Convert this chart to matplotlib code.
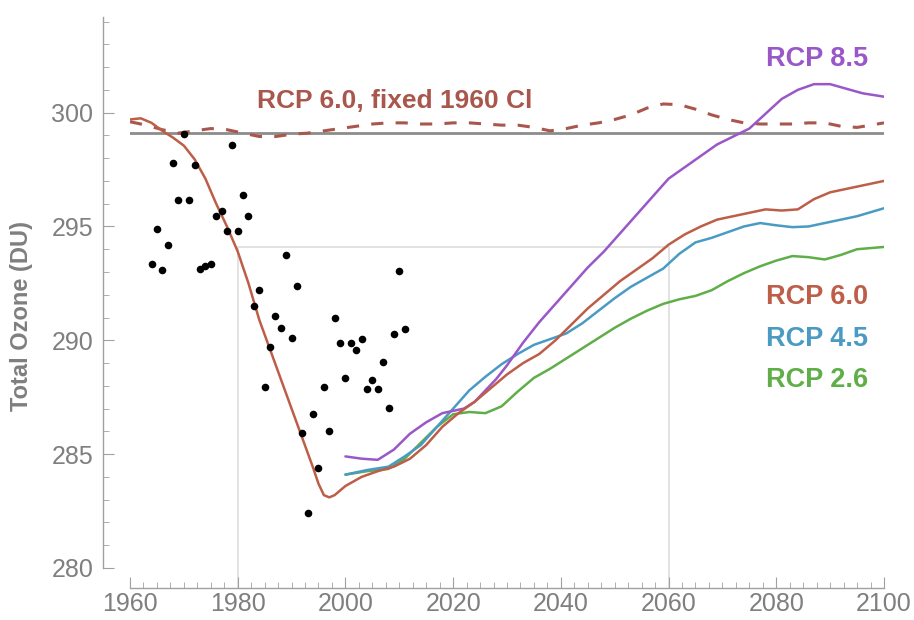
import matplotlib.pyplot as plt
from matplotlib.ticker import MultipleLocator

plt.rcParams.update({"font.family": ["Liberation Sans", "DejaVu Sans"]})

# observed total ozone (dots)
obs_years = list(range(1964, 2012))
obs_vals = [293.36, 294.9, 293.07, 294.2, 297.8, 296.17, 299.06, 296.17, 297.7, 293.11,
            293.27, 293.36, 295.45, 295.7, 294.82, 298.58, 294.82, 296.36, 295.48, 291.5,
            292.2, 287.95, 289.7, 291.05, 290.54, 293.76, 290.1, 292.38, 285.94, 282.4,
            286.78, 284.37, 287.95, 286.02, 290.99, 289.86, 288.36, 289.86, 289.56, 290.07,
            287.88, 288.25, 287.84, 289.04, 287.03, 290.29, 293.04, 290.5]

# RCP 6.0 incl. historical part
rcp60_years = [1960, 1962, 1964, 1966, 1968, 1970, 1972, 1974, 1976, 1978, 1980, 1982, 1984,
               1986, 1988, 1990, 1992, 1994, 1995, 1996, 1997, 1998, 2000, 2003, 2006, 2009,
               2012, 2015, 2018, 2021, 2024, 2027, 2030, 2033, 2036, 2039, 2042, 2045, 2048,
               2051, 2054, 2057, 2060, 2063, 2066, 2069, 2072, 2075, 2078, 2081, 2084, 2087,
               2090, 2093, 2096, 2100]
rcp60_vals = [299.7, 299.75, 299.55, 299.2, 298.9, 298.55, 297.95, 297.1, 296.0, 295.0, 293.9,
              292.5, 290.9, 289.6, 288.3, 287.0, 285.7, 284.4, 283.7, 283.2, 283.1, 283.2,
              283.6, 284.0, 284.25, 284.45, 284.8, 285.4, 286.2, 286.8, 287.3, 287.9, 288.5,
              289.0, 289.4, 290.0, 290.7, 291.4, 292.0, 292.6, 293.1, 293.6, 294.2, 294.65,
              295.0, 295.3, 295.45, 295.6, 295.75, 295.7, 295.75, 296.2, 296.5, 296.65,
              296.8, 297.0]

rcp85_years = [2000, 2003, 2006, 2009, 2012, 2015, 2018, 2020, 2022, 2024, 2026, 2028, 2030,
               2033, 2036, 2039, 2042, 2045, 2048, 2051, 2054, 2057, 2060, 2063, 2066, 2069,
               2072, 2075, 2078, 2081, 2084, 2087, 2090, 2093, 2096, 2100]
rcp85_vals = [284.9, 284.8, 284.75, 285.2, 285.9, 286.4, 286.8, 286.9, 287.0, 287.3, 287.8,
              288.3, 288.9, 289.9, 290.8, 291.6, 292.4, 293.2, 293.9, 294.7, 295.5, 296.3,
              297.1, 297.6, 298.1, 298.6, 298.95, 299.3, 299.95, 300.6, 301.0, 301.25,
              301.25, 301.05, 300.85, 300.7]

rcp45_years = [2000, 2004, 2008, 2011, 2014, 2017, 2020, 2023, 2026, 2029, 2032, 2035, 2038,
               2041, 2044, 2047, 2050, 2053, 2056, 2059, 2062, 2065, 2068, 2071, 2074, 2077,
               2080, 2083, 2086, 2089, 2092, 2095, 2100]
rcp45_vals = [284.1, 284.3, 284.45, 284.9, 285.4, 286.2, 287.0, 287.8, 288.4, 288.95, 289.4,
              289.8, 290.05, 290.3, 290.75, 291.3, 291.85, 292.35, 292.75, 293.15, 293.8,
              294.3, 294.5, 294.75, 295.0, 295.15, 295.05, 294.97, 295.0, 295.15, 295.3,
              295.45, 295.8]

rcp26_years = [2000, 2004, 2008, 2011, 2014, 2017, 2020, 2023, 2026, 2029, 2032, 2035, 2038,
               2041, 2044, 2047, 2050, 2053, 2056, 2059, 2062, 2065, 2068, 2071, 2074, 2077,
               2080, 2083, 2086, 2089, 2092, 2095, 2100]
rcp26_vals = [284.1, 284.25, 284.35, 284.8, 285.5, 286.2, 286.75, 286.85, 286.8, 287.1,
              287.75, 288.35, 288.75, 289.2, 289.65, 290.1, 290.55, 290.95, 291.3, 291.6,
              291.8, 291.95, 292.2, 292.6, 292.95, 293.25, 293.5, 293.7, 293.65, 293.55,
              293.75, 294.0, 294.1]

# RCP 6.0 with chlorine fixed at 1960 level
fixed_years = [1960, 1963, 1966, 1969, 1972, 1975, 1978, 1981, 1984, 1987, 1990, 1993, 1996,
               1999, 2002, 2005, 2008, 2011, 2014, 2017, 2020, 2023, 2026, 2029, 2032, 2035,
               2038, 2041, 2044, 2047, 2050, 2053, 2056, 2059, 2062, 2065, 2068, 2071, 2074,
               2077, 2080, 2083, 2086, 2089, 2092, 2095, 2100]
fixed_vals = [299.6, 299.45, 299.25, 299.1, 299.2, 299.3, 299.25, 299.1, 298.95, 298.95,
              299.05, 299.1, 299.2, 299.3, 299.4, 299.5, 299.55, 299.55, 299.5, 299.5, 299.55,
              299.55, 299.5, 299.45, 299.45, 299.35, 299.2, 299.3, 299.45, 299.55, 299.7,
              299.9, 300.2, 300.38, 300.35, 300.15, 299.9, 299.7, 299.55, 299.5, 299.5, 299.5,
              299.55, 299.55, 299.4, 299.35, 299.55]

ref_1960 = 299.1      # gray horizontal reference
recover_level = 294.1  # 1980 level, reached again in 2060
recover_years = [1980, 2060]

C_RED = "#bd5e48"
C_DASH = "#a9574c"
C_PURPLE = "#9a57c8"
C_BLUE = "#4a9bc3"
C_GREEN = "#5fae48"
C_GRAY = "#7f7f7f"

fig = plt.figure(figsize=(9.14, 6.2), dpi=100)
ax = fig.add_axes([130 / 914, 1 - 588 / 620, 754 / 914, 571 / 620])
ax.set_xlim(1960, 2100)
ax.set_ylim(279.12, 304.2)

# 1980 / 2060 guide lines
y0 = ax.get_ylim()[0]
ax.plot([recover_years[0], recover_years[0], recover_years[1], recover_years[1]],
        [y0, recover_level, recover_level, y0], color="#dddddd", lw=1.2, zorder=1)

ax.axhline(ref_1960, color="#8c8c8c", lw=2.0, zorder=2)
ax.plot(fixed_years, fixed_vals, color=C_DASH, lw=2.2, dashes=(4, 4), zorder=3)

line_kw = dict(lw=1.8, solid_joinstyle="round", solid_capstyle="round")
ax.plot(rcp26_years, rcp26_vals, color=C_GREEN, zorder=3, **line_kw)
ax.plot(rcp45_years, rcp45_vals, color=C_BLUE, zorder=3, **line_kw)
ax.plot(rcp85_years, rcp85_vals, color=C_PURPLE, zorder=3, **line_kw)
ax.plot(rcp60_years, rcp60_vals, color=C_RED, zorder=4, **line_kw)

ax.scatter(obs_years, obs_vals, s=30, color="black", zorder=5, linewidths=0)

lab_kw = dict(fontsize=19.5, fontweight="bold", ha="center", va="center")
ax.text(2087.5, 302.35, "RCP 8.5", color=C_PURPLE, **lab_kw)
ax.text(2087.5, 291.9, "RCP 6.0", color=C_RED, **lab_kw)
ax.text(2087.5, 290.05, "RCP 4.5", color=C_BLUE, **lab_kw)
ax.text(2087.5, 288.25, "RCP 2.6", color=C_GREEN, **lab_kw)
ax.text(1983.5, 300.5, "RCP 6.0, fixed 1960 Cl", color=C_DASH, fontsize=19,
        fontweight="bold", ha="left", va="center")

# Mathematica-like axes
for s in ("top", "right"):
    ax.spines[s].set_visible(False)
ax.spines["left"].set_position(("outward", 19.5))
ax.spines["left"].set_bounds(280, 304.2)
for s in ("left", "bottom"):
    ax.spines[s].set_color("#a0a0a0")
    ax.spines[s].set_linewidth(1.0)

ax.xaxis.set_major_locator(MultipleLocator(20))
ax.xaxis.set_minor_locator(MultipleLocator(2.5))
ax.yaxis.set_major_locator(MultipleLocator(5))
ax.yaxis.set_minor_locator(MultipleLocator(1))
ax.tick_params(which="both", direction="in", color="#a0a0a0", labelcolor=C_GRAY,
               labelsize=18)
ax.tick_params(which="major", length=8, width=0.8)
ax.tick_params(which="minor", length=4, width=0.6)
ax.tick_params(axis="x", pad=3)
ax.tick_params(axis="y", pad=7)

fig.text(22 / 914, 1 - 316 / 620, "Total Ozone (DU)", rotation=90, ha="center",
         va="center", fontsize=17, fontweight="bold", color=C_GRAY)

fig.savefig("out.png", dpi=100)
